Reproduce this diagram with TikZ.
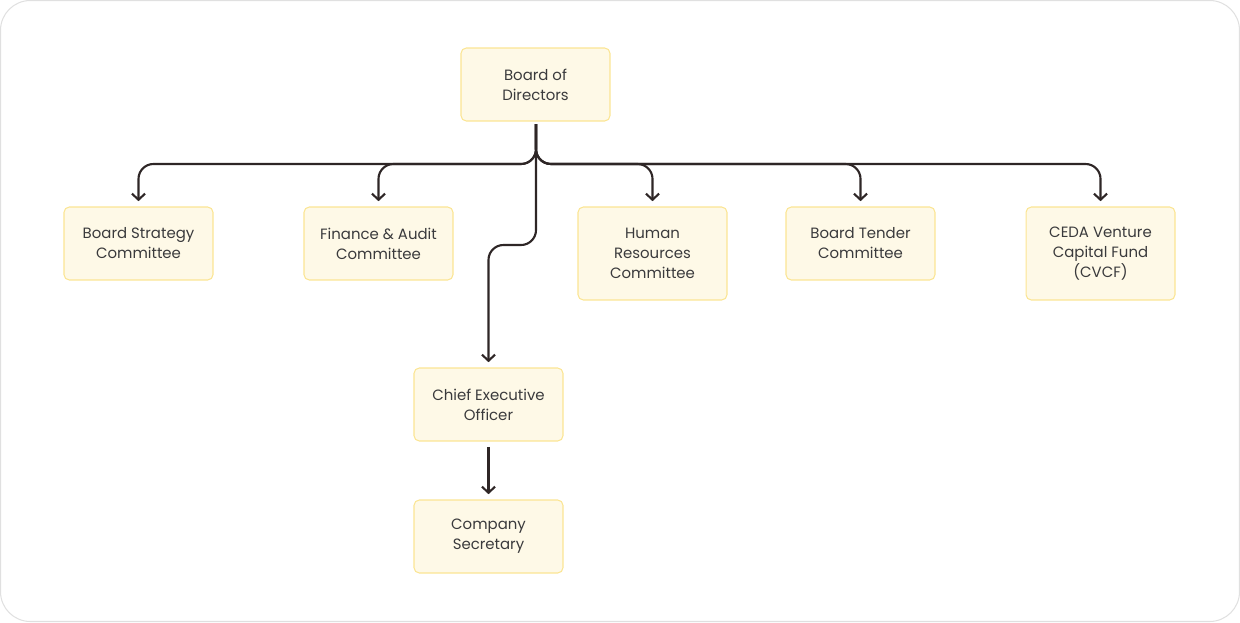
\documentclass[tikz,border=0pt]{standalone}
\usepackage{fontspec}
\setmainfont{Poppins}
\usetikzlibrary{arrows.meta}
\definecolor{boxfill}{HTML}{FEF9E7}
\definecolor{boxline}{HTML}{FBE593}
\definecolor{wire}{HTML}{2E2626}
\definecolor{ink}{HTML}{3A3A3C}
\tikzset{
  unit/.style={draw=boxline, fill=boxfill, rounded corners=3pt, line width=0.6pt,
    minimum width=2.98cm, minimum height=1.46cm, align=center, text=ink,
    font=\fontsize{8.5}{11.4}\selectfont},
  tall/.style={unit, minimum height=1.86cm},
  link/.style={draw=wire, line width=1.2pt, rounded corners=8.5pt,
    -{Straight Barb[length=3.5pt,width=7.5pt]}, shorten >=3pt}
}
\begin{document}
\begin{tikzpicture}[x=0.02cm,y=-0.02cm]
\useasboundingbox (0,0) rectangle (1240,622);
\draw[draw=black!12, line width=0.6pt, rounded corners=17pt] (0.5,0.5) rectangle (1239.5,621.5);
\node[unit] (bod) at (535.5,84.5) {Board of\\Directors};
\node[unit] (bsc) at (138.5,243.5) {Board Strategy\\Committee};
\node[unit] (fac) at (378.5,243.5) {Finance \& Audit\\Committee};
\node[tall] (hrc) at (652.5,253.5) {Human\\Resources\\Committee};
\node[unit] (btc) at (860.5,243.5) {Board Tender\\Committee};
\node[tall] (cvcf) at (1100.5,253.5) {CEDA Venture\\Capital Fund\\(CVCF)};
\node[unit] (ceo) at (488.5,404.5) {Chief Executive\\Officer};
\node[unit] (cs) at (488.5,536.5) {Company\\Secretary};
\draw[link] (536,124) -- (536,164) -| (bsc.north);
\draw[link] (536,124) -- (536,164) -| (fac.north);
\draw[link] (536,124) -- (536,164) -| (hrc.north);
\draw[link] (536,124) -- (536,164) -| (btc.north);
\draw[link] (536,124) -- (536,164) -| (cvcf.north);
\draw[link] (536,124) -- (536,245) -| (ceo.north);
\draw[link, shorten <=3pt] (ceo.south) -- (cs.north);
\end{tikzpicture}
\end{document}
